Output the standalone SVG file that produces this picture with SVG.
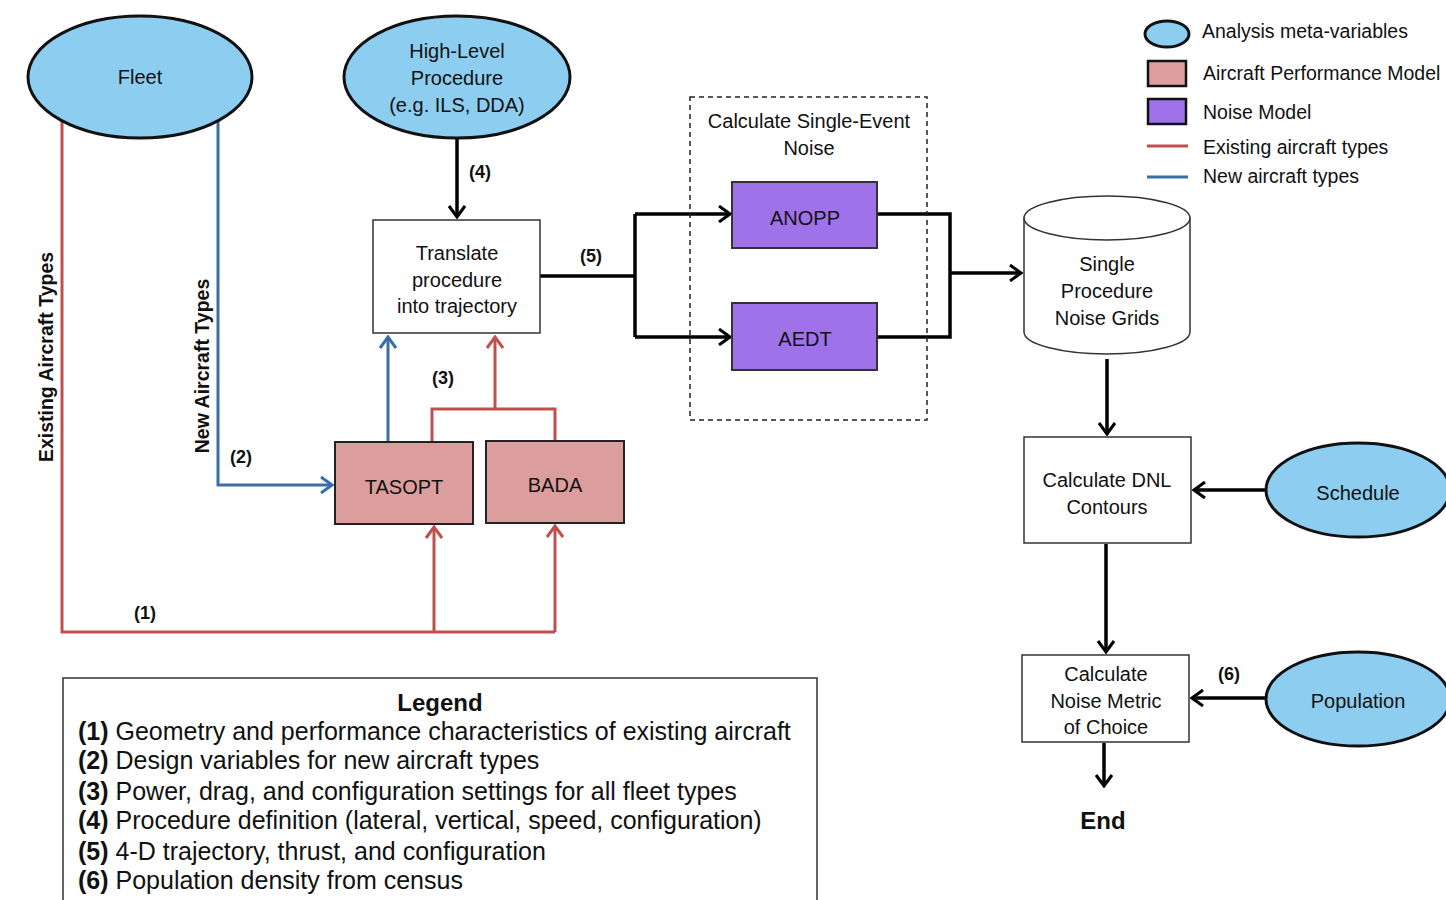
<svg xmlns="http://www.w3.org/2000/svg" width="1446" height="900" viewBox="0 0 1446 900">
<style>
text{font-family:"Liberation Sans",Arial,sans-serif;fill:#111;}
.t{font-size:20px;text-anchor:middle;}
.lab{font-size:18px;font-weight:bold;text-anchor:middle;}
.rot{font-size:19.5px;font-weight:bold;text-anchor:middle;}
.meta{fill:#8dcdf0;stroke:#111;stroke-width:3;}
.box{fill:#fff;stroke:#333;stroke-width:1.5;}
.perf{fill:#dc9e9c;stroke:#222;stroke-width:2;}
.noise{fill:#a072ea;stroke:#333;stroke-width:2;}
.k{fill:none;stroke:#000;stroke-width:3.5;}
.r{fill:none;stroke:#c0504d;stroke-width:3;}
.b{fill:none;stroke:#3a6fa6;stroke-width:3;}
.lg{font-size:25px;}
.lt{font-size:19.5px;}
</style>
<defs>
<marker id="ak" viewBox="0 0 14 18" refX="12" refY="9" markerWidth="14" markerHeight="18" markerUnits="userSpaceOnUse" orient="auto"><path d="M1,1 L12,9 L1,17" fill="none" stroke="#000" stroke-width="3"/></marker>
<marker id="ar" viewBox="0 0 14 18" refX="12" refY="9" markerWidth="14" markerHeight="18" markerUnits="userSpaceOnUse" orient="auto"><path d="M1,1 L12,9 L1,17" fill="none" stroke="#c0504d" stroke-width="3"/></marker>
<marker id="ab" viewBox="0 0 14 18" refX="12" refY="9" markerWidth="14" markerHeight="18" markerUnits="userSpaceOnUse" orient="auto"><path d="M1,1 L12,9 L1,17" fill="none" stroke="#3a6fa6" stroke-width="3"/></marker>
</defs>
<rect width="1446" height="900" fill="#fff"/>

<g id="connectors">
<path class="r" d="M62,120 V632 H555"/>
<path class="r" d="M434,632 V527" marker-end="url(#ar)"/>
<path class="r" d="M555,632 V526" marker-end="url(#ar)"/>
<path class="b" d="M218,117 V485 H332" marker-end="url(#ab)"/>
<path class="b" d="M388,442 V337" marker-end="url(#ab)"/>
<path class="r" d="M432,442 V409 H555 V441"/>
<path class="r" d="M495,409 V337" marker-end="url(#ar)"/>
<path class="k" d="M457,139 V217" marker-end="url(#ak)"/>
<path class="k" d="M540,276 H635"/>
<path class="k" d="M635,214 V337"/>
<path class="k" d="M635,214 H730" marker-end="url(#ak)"/>
<path class="k" d="M635,337 H730" marker-end="url(#ak)"/>
<path class="k" d="M877,214 H950 V337 H877"/>
<path class="k" d="M950,273 H1021" marker-end="url(#ak)"/>
<path class="k" d="M1107,359 V434" marker-end="url(#ak)"/>
<path class="k" d="M1266,490 H1194" marker-end="url(#ak)"/>
<path class="k" d="M1106,544 V652" marker-end="url(#ak)"/>
<path class="k" d="M1266,698 H1192" marker-end="url(#ak)"/>
<path class="k" d="M1104,743 V786" marker-end="url(#ak)"/>
<text class="lab" x="145" y="619">(1)</text>
<text class="lab" x="241" y="463">(2)</text>
<text class="lab" x="443" y="384">(3)</text>
<text class="lab" x="480" y="178">(4)</text>
<text class="lab" x="591" y="262">(5)</text>
<text class="lab" x="1229" y="680">(6)</text>
<text class="rot" transform="translate(53,357) rotate(-90)">Existing Aircraft Types</text>
<text class="rot" transform="translate(209,366) rotate(-90)">New Aircraft Types</text>
</g>

<g id="fleet">
<ellipse class="meta" cx="140" cy="77" rx="112" ry="61"/>
<text class="t" x="140" y="84">Fleet</text>
</g>
<g id="high-level-procedure">
<ellipse class="meta" cx="457" cy="77" rx="113" ry="61"/>
<text class="t" x="457" y="58">High-Level</text>
<text class="t" x="457" y="85">Procedure</text>
<text class="t" x="457" y="112">(e.g. ILS, DDA)</text>
</g>
<g id="translate">
<rect class="box" x="373" y="220" width="167" height="113"/>
<text class="t" x="457" y="260">Translate</text>
<text class="t" x="457" y="287">procedure</text>
<text class="t" x="457" y="313">into trajectory</text>
</g>
<g id="single-event-group">
<rect x="690" y="97" width="237" height="323" fill="none" stroke="#222" stroke-width="1.5" stroke-dasharray="5,4"/>
<text class="t" x="809" y="128">Calculate Single-Event</text>
<text class="t" x="809" y="155">Noise</text>
</g>
<g id="anopp">
<rect class="noise" x="732" y="182" width="145" height="66"/>
<text class="t" x="805" y="225">ANOPP</text>
</g>
<g id="aedt">
<rect class="noise" x="732" y="303" width="145" height="67"/>
<text class="t" x="805" y="346">AEDT</text>
</g>
<g id="noise-grids">
<path d="M1024,218 V332 A83,22 0 0 0 1190,332 V218" fill="#fff" stroke="#333" stroke-width="1.5"/>
<ellipse cx="1107" cy="218" rx="83" ry="22" fill="#fff" stroke="#333" stroke-width="1.5"/>
<text class="t" x="1107" y="271">Single</text>
<text class="t" x="1107" y="298">Procedure</text>
<text class="t" x="1107" y="325">Noise Grids</text>
</g>
<g id="dnl">
<rect class="box" x="1024" y="437" width="167" height="106"/>
<text class="t" x="1107" y="487">Calculate DNL</text>
<text class="t" x="1107" y="514">Contours</text>
</g>
<g id="schedule">
<ellipse class="meta" cx="1358" cy="490" rx="92" ry="47"/>
<text class="t" x="1358" y="500">Schedule</text>
</g>
<g id="metric">
<rect class="box" x="1022" y="655" width="167" height="87"/>
<text class="t" x="1106" y="681">Calculate</text>
<text class="t" x="1106" y="708">Noise Metric</text>
<text class="t" x="1106" y="734">of Choice</text>
</g>
<g id="population">
<ellipse class="meta" cx="1358" cy="699" rx="92" ry="47"/>
<text class="t" x="1358" y="708">Population</text>
</g>
<g id="end">
<text x="1103" y="829" font-size="24" font-weight="bold" text-anchor="middle">End</text>
</g>
<g id="tasopt">
<rect class="perf" x="335" y="442" width="138" height="82"/>
<text class="t" x="404" y="494">TASOPT</text>
</g>
<g id="bada">
<rect class="perf" x="486" y="441" width="138" height="82"/>
<text class="t" x="555" y="492">BADA</text>
</g>

<g id="legend">
<rect x="63" y="678" width="754" height="240" fill="#fff" stroke="#333" stroke-width="1.5"/>
<text x="440" y="711" font-size="24" font-weight="bold" text-anchor="middle">Legend</text>
<text class="lg" x="78" y="740"><tspan font-weight="bold">(1)</tspan> Geometry and performance characteristics of existing aircraft</text>
<text class="lg" x="78" y="769"><tspan font-weight="bold">(2)</tspan> Design variables for new aircraft types</text>
<text class="lg" x="78" y="800"><tspan font-weight="bold">(3)</tspan> Power, drag, and configuration settings for all fleet types</text>
<text class="lg" x="78" y="829"><tspan font-weight="bold">(4)</tspan> Procedure definition (lateral, vertical, speed, configuration)</text>
<text class="lg" x="78" y="860"><tspan font-weight="bold">(5)</tspan> 4-D trajectory, thrust, and configuration</text>
<text class="lg" x="78" y="889"><tspan font-weight="bold">(6)</tspan> Population density from census</text>
</g>

<g id="key">
<ellipse class="meta" cx="1167" cy="34" rx="22" ry="13" stroke-width="2.5"/>
<rect x="1148" y="61" width="38" height="25" fill="#dc9e9c" stroke="#111" stroke-width="2.5"/>
<rect x="1148" y="99" width="38" height="25" fill="#a072ea" stroke="#111" stroke-width="2.5"/>
<line x1="1147" y1="146" x2="1188" y2="146" stroke="#c0504d" stroke-width="3"/>
<line x1="1147" y1="177" x2="1188" y2="177" stroke="#3a6fa6" stroke-width="3"/>
<text class="lt" x="1202" y="38">Analysis meta-variables</text>
<text class="lt" x="1203" y="80">Aircraft Performance Model</text>
<text class="lt" x="1203" y="119">Noise Model</text>
<text class="lt" x="1203" y="154">Existing aircraft types</text>
<text class="lt" x="1203" y="183">New aircraft types</text>
</g>
</svg>
